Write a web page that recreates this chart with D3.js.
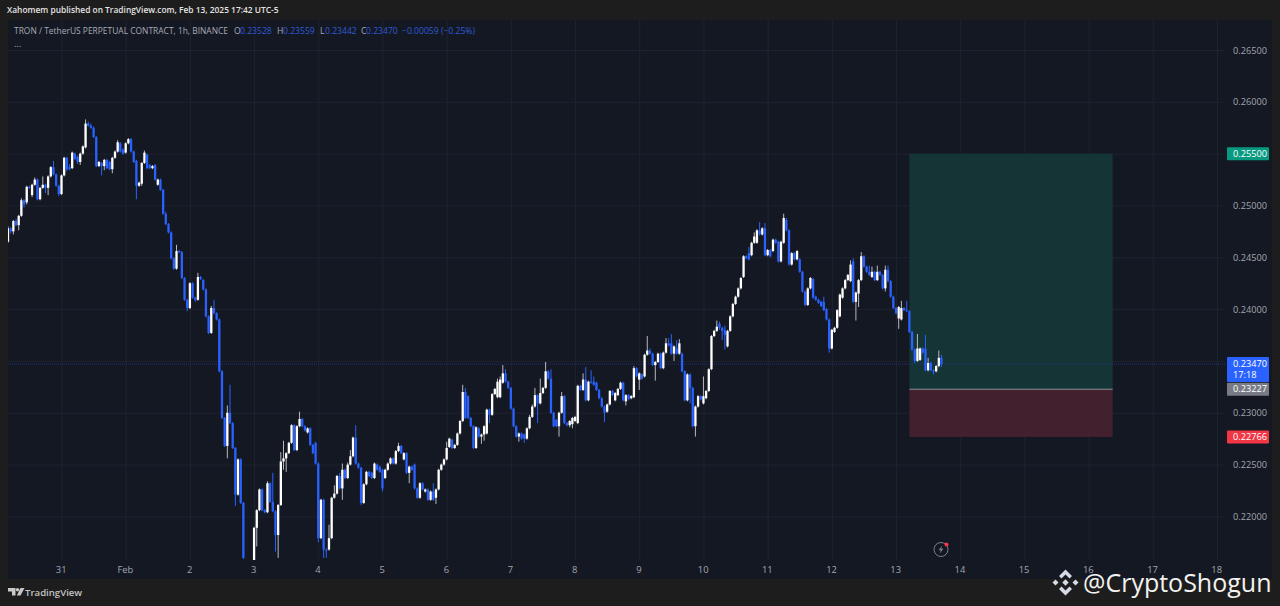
<!DOCTYPE html>
<html><head><meta charset="utf-8">
<script src="https://cdn.jsdelivr.net/npm/d3@7"></script>
<style>html,body{margin:0;padding:0;background:#1d1d1d;overflow:hidden}svg{display:block}text{font-family:"Open Sans",sans-serif}</style>
</head><body><svg id="c" width="1280" height="606"></svg>
<script>
// Values are prices x 10000, one per hourly candle.
const opens=[2465,2478,2475,2485,2481,2490,2505,2503,2518,2510,
2520,2525,2506,2517,2520,2517,2528,2537,2530,2519,
2511,2529,2546,2537,2536,2550,2547,2542,2550,2556,
2579,2577,2575,2566,2538,2541,2538,2544,2542,2535,
2546,2552,2560,2554,2551,2560,2564,2552,2543,2519,
2521,2541,2549,2539,2536,2539,2520,2525,2515,2492,
2482,2474,2449,2439,2456,2455,2430,2409,2401,2425,
2411,2409,2431,2428,2419,2393,2377,2401,2396,2390,
2340,2295,2268,2300,2290,2266,2221,2255,2213,2155,
2148,2140,2152,2189,2206,2226,2206,2204,2232,2214,
2205,2182,2211,2253,2256,2261,2271,2288,2264,2287,
2294,2287,2281,2285,2269,2271,2251,2179,2216,2168,
2168,2179,2218,2222,2239,2227,2245,2237,2250,2258,
2276,2251,2247,2213,2231,2243,2242,2237,2250,2248,
2245,2237,2245,2251,2256,2251,2263,2268,2255,2261,
2242,2248,2250,2227,2218,2232,2224,2226,2216,2224,
2218,2226,2245,2250,2255,2267,2274,2266,2269,2280,
2292,2320,2316,2295,2287,2266,2285,2277,2279,2280,
2303,2298,2318,2315,2315,2329,2338,2330,2324,2304,
2287,2277,2280,2279,2275,2285,2296,2306,2317,2309,
2319,2324,2340,2333,2300,2293,2287,2300,2316,2290,
2288,2289,2292,2290,2326,2322,2332,2312,2330,2330,
2329,2322,2314,2306,2301,2308,2321,2312,2317,2323,
2329,2311,2317,2314,2315,2343,2332,2337,2335,2356,
2360,2357,2346,2349,2357,2343,2358,2367,2367,2357,
2362,2357,2357,2340,2312,2337,2324,2287,2306,2316,
2309,2314,2321,2342,2374,2379,2386,2382,2380,2364,
2379,2393,2405,2412,2420,2431,2451,2454,2452,2464,
2464,2476,2472,2478,2452,2457,2456,2467,2465,2446,
2464,2486,2476,2443,2454,2448,2448,2436,2417,2404,
2420,2429,2412,2409,2407,2407,2400,2390,2362,2378,
2382,2393,2411,2420,2428,2427,2446,2407,2415,2428,
2451,2441,2436,2431,2436,2428,2436,2433,2420,2438,
2427,2412,2401,2391,2390,2401,2399,2398,2378,2361,
2350,2351,2362,2362,2341,2348,2341,2340,2345,2353];
const closes=[2478,2475,2485,2481,2490,2505,2501,2518,2517,2520,
2525,2506,2517,2520,2517,2528,2537,2530,2519,2511,
2529,2546,2535,2535,2551,2545,2542,2550,2557,2579,
2577,2575,2566,2538,2542,2538,2544,2536,2535,2546,
2552,2561,2552,2550,2560,2564,2552,2542,2519,2522,
2541,2551,2536,2536,2538,2525,2525,2515,2492,2482,
2474,2449,2439,2456,2455,2430,2409,2401,2425,2411,
2409,2431,2429,2419,2393,2377,2401,2396,2390,2340,
2295,2268,2300,2290,2266,2221,2255,2213,2160,2148,
2140,2150,2189,2206,2226,2206,2204,2232,2214,2205,
2182,2211,2253,2256,2261,2271,2288,2264,2287,2294,
2287,2283,2285,2269,2261,2251,2179,2216,2168,2167,
2179,2218,2222,2239,2227,2245,2237,2250,2258,2276,
2251,2247,2213,2231,2243,2239,2237,2251,2245,2243,
2227,2245,2251,2256,2251,2263,2268,2261,2261,2242,
2248,2245,2227,2218,2232,2226,2226,2216,2224,2216,
2226,2245,2250,2255,2266,2275,2266,2269,2280,2292,
2320,2295,2295,2287,2266,2286,2277,2279,2287,2303,
2298,2318,2323,2330,2332,2338,2330,2324,2304,2287,
2277,2280,2275,2275,2285,2296,2306,2317,2309,2319,
2324,2340,2333,2300,2287,2287,2300,2316,2290,2288,
2292,2295,2296,2326,2322,2332,2312,2330,2329,2327,
2322,2314,2306,2300,2308,2321,2317,2319,2323,2329,
2312,2317,2313,2316,2343,2335,2338,2333,2356,2360,
2357,2346,2349,2357,2343,2358,2367,2365,2357,2364,
2357,2367,2340,2312,2337,2324,2287,2306,2316,2313,
2316,2321,2342,2374,2379,2383,2382,2379,2375,2379,
2393,2405,2412,2420,2430,2451,2449,2448,2464,2470,
2476,2472,2478,2452,2457,2451,2467,2464,2446,2465,
2488,2476,2443,2454,2448,2456,2436,2417,2404,2420,
2430,2411,2409,2406,2403,2399,2390,2362,2380,2382,
2399,2414,2420,2428,2433,2443,2407,2416,2428,2451,
2441,2436,2433,2436,2428,2436,2433,2420,2438,2427,
2412,2401,2396,2402,2401,2399,2398,2378,2361,2350,
2362,2362,2358,2341,2348,2341,2340,2345,2353,2347];
const highs=[2480,2479,2486,2487,2491,2507,2506,2519,2519,2521,
2527,2526,2518,2528,2521,2529,2538,2543,2531,2520,
2530,2547,2547,2540,2552,2551,2548,2551,2558,2583,
2581,2579,2576,2567,2543,2542,2545,2545,2543,2547,
2553,2563,2561,2555,2561,2565,2565,2553,2544,2523,
2542,2553,2550,2540,2539,2540,2526,2526,2516,2494,
2483,2475,2450,2462,2457,2456,2431,2410,2426,2426,
2412,2435,2432,2429,2420,2394,2403,2409,2397,2391,
2341,2296,2307,2327,2291,2267,2256,2256,2214,2156,
2149,2151,2190,2207,2227,2227,2207,2234,2233,2242,
2206,2212,2262,2273,2262,2272,2289,2289,2288,2301,
2295,2288,2286,2286,2270,2272,2252,2217,2217,2169,
2192,2219,2230,2240,2242,2251,2246,2252,2264,2277,
2288,2252,2248,2232,2244,2244,2243,2252,2251,2249,
2246,2246,2252,2257,2257,2264,2271,2269,2262,2262,
2249,2249,2251,2228,2233,2233,2227,2227,2225,2232,
2227,2246,2251,2256,2272,2276,2275,2270,2281,2293,
2327,2324,2317,2296,2288,2287,2286,2280,2288,2304,
2304,2319,2324,2333,2335,2346,2342,2331,2325,2305,
2288,2281,2281,2280,2286,2298,2308,2324,2318,2333,
2325,2349,2341,2342,2301,2294,2301,2320,2317,2291,
2293,2296,2297,2327,2327,2338,2344,2331,2341,2335,
2330,2323,2315,2307,2309,2322,2322,2320,2324,2330,
2330,2318,2318,2317,2345,2344,2339,2338,2357,2374,
2362,2358,2350,2358,2358,2359,2372,2372,2376,2365,
2370,2371,2358,2341,2338,2338,2325,2307,2317,2317,
2335,2322,2343,2375,2380,2389,2388,2383,2384,2380,
2394,2406,2413,2421,2431,2452,2452,2460,2465,2474,
2477,2484,2479,2483,2458,2458,2468,2468,2466,2466,
2492,2488,2477,2455,2455,2457,2449,2437,2418,2421,
2431,2430,2413,2410,2408,2412,2401,2391,2381,2383,
2400,2415,2421,2429,2434,2447,2449,2417,2429,2455,
2452,2442,2442,2441,2437,2442,2437,2434,2442,2442,
2428,2413,2402,2403,2408,2402,2408,2399,2379,2362,
2376,2363,2363,2375,2353,2349,2342,2346,2360,2356];
const lows=[2464,2473,2472,2480,2476,2489,2498,2501,2516,2508,
2519,2505,2505,2516,2512,2510,2527,2529,2518,2509,
2510,2528,2533,2534,2535,2544,2540,2539,2549,2555,
2576,2574,2565,2537,2537,2529,2534,2535,2534,2531,
2545,2551,2551,2549,2550,2559,2551,2541,2506,2518,
2519,2540,2535,2535,2535,2524,2519,2514,2491,2481,
2473,2448,2438,2438,2454,2429,2408,2398,2400,2410,
2407,2408,2428,2418,2392,2376,2376,2395,2389,2339,
2294,2267,2256,2289,2265,2210,2220,2212,2159,2147,
2139,2139,2150,2171,2205,2205,2203,2203,2213,2204,
2166,2160,2210,2245,2243,2260,2270,2263,2263,2286,
2286,2282,2280,2268,2260,2250,2175,2178,2160,2160,
2167,2178,2217,2221,2226,2216,2236,2236,2249,2257,
2250,2246,2211,2212,2230,2238,2236,2236,2244,2242,
2224,2236,2244,2250,2250,2250,2262,2260,2254,2241,
2232,2244,2226,2217,2217,2225,2223,2215,2215,2215,
2212,2225,2244,2249,2254,2266,2265,2265,2268,2279,
2291,2294,2294,2286,2265,2265,2276,2270,2273,2279,
2290,2297,2317,2314,2314,2328,2329,2323,2303,2286,
2276,2272,2274,2271,2274,2284,2295,2305,2290,2308,
2318,2323,2332,2299,2286,2286,2277,2299,2289,2287,
2286,2285,2291,2289,2321,2321,2311,2311,2328,2326,
2321,2313,2305,2291,2300,2307,2316,2311,2316,2322,
2311,2307,2312,2313,2314,2334,2322,2332,2334,2355,
2356,2345,2331,2348,2342,2342,2357,2364,2356,2350,
2356,2356,2339,2311,2311,2309,2286,2277,2305,2312,
2308,2313,2320,2341,2373,2378,2380,2370,2361,2363,
2378,2392,2404,2411,2419,2430,2448,2447,2451,2463,
2463,2471,2471,2451,2451,2450,2455,2463,2445,2445,
2463,2475,2442,2442,2447,2447,2435,2416,2403,2403,
2419,2410,2408,2405,2402,2398,2389,2358,2361,2377,
2381,2392,2410,2419,2427,2426,2406,2389,2402,2427,
2440,2435,2432,2430,2427,2427,2432,2419,2417,2426,
2411,2400,2395,2381,2389,2398,2397,2377,2360,2348,
2349,2350,2357,2340,2340,2340,2337,2339,2344,2344];
const priceTicks=[0.265,0.26,0.255,0.25,0.245,0.24,0.235,0.23,0.225,0.22];
const firstCandle=new Date(Date.UTC(2025,0,30,4));
const lastTick=new Date(Date.UTC(2025,1,18));
const targetPrice=0.255, entryPrice=0.23227, stopPrice=0.22766, lastPrice=0.2347;
const toolStart=new Date(Date.UTC(2025,1,13,5)), toolEnd=new Date(Date.UTC(2025,1,16,9));
const headerText="Xahomem published on TradingView.com, Feb 13, 2025 17:42 UTC-5";
const titleText="TRON / TetherUS PERPETUAL CONTRACT, 1h, BINANCE";
const legendLetters=["O","H","L","C"];
const legendValues=["0.23528","0.23559","0.23442","0.23470"];
const legendChange="\u22120.00059 (\u22120.25%)";

const svg=d3.select("#c");
const W=1280,H=606,L=8,T=20,R=1272,B=579,PB=560,AX=1225;
const x=d3.scaleUtc().domain([firstCandle,lastTick]).range([8,1217]);
const y=d3.scaleLinear().domain([0.265,0.22]).range([50,516.4]);
const BLUE="#2962ff";

svg.append("rect").attr("width",W).attr("height",H).attr("fill","#1d1d1d");
svg.append("rect").attr("x",L).attr("y",T).attr("width",R-L).attr("height",B-T).attr("fill","#141823");
const defs=svg.append("defs");
defs.append("clipPath").attr("id","plot").append("rect").attr("x",L).attr("y",T).attr("width",AX-L).attr("height",PB-T);

// grid + axes
const days=d3.utcDay.range(d3.utcDay.ceil(firstCandle),d3.utcDay.offset(lastTick,1));
const xAxis=d3.axisBottom(x).tickValues(days).tickSize(0).tickPadding(0)
  .tickFormat(d=>d.getUTCDate()===1?"Feb":String(d.getUTCDate()));
const gx=svg.append("g").attr("transform",`translate(0,${PB})`).call(xAxis);
gx.select(".domain").remove();
gx.selectAll("text").attr("x",-0.8).attr("y",12.5).attr("dy",0).attr("fill","#a3a6af").attr("font-size",9.4);
gx.selectAll(".tick").append("line").attr("y1",T-PB).attr("y2",0).attr("stroke","#1e2330").attr("stroke-width",1);

const yAxis=d3.axisRight(y).tickValues(priceTicks).tickSize(0).tickPadding(0).tickFormat(d3.format(".5f"));
const gy=svg.append("g").attr("transform",`translate(${1233},0)`).call(yAxis);
gy.select(".domain").remove();
gy.selectAll("text").attr("fill","#a3a6af").attr("font-size",9.2).attr("dy","0.34em");
gy.selectAll(".tick").append("line").attr("x1",L-1233).attr("x2",AX-1233).attr("stroke","#1e2330").attr("stroke-width",1);

// position tool
const tool=svg.append("g");
tool.append("rect").attr("x",x(toolStart)).attr("width",x(toolEnd)-x(toolStart)).attr("y",y(targetPrice)).attr("height",y(entryPrice)-y(targetPrice)).attr("fill","#153436");
tool.append("rect").attr("x",x(toolStart)).attr("width",x(toolEnd)-x(toolStart)).attr("y",y(entryPrice)).attr("height",y(stopPrice)-y(entryPrice)).attr("fill","#42202d");
tool.append("line").attr("x1",x(toolStart)).attr("x2",x(toolEnd)).attr("y1",y(entryPrice)).attr("y2",y(entryPrice)).attr("stroke","#8d9098");

// last price line
svg.append("line").attr("x1",L).attr("x2",AX).attr("y1",y(lastPrice)).attr("y2",y(lastPrice)).attr("stroke","#23317a").attr("stroke-dasharray","1 1").attr("stroke-width",1);

// candles
const candles=opens.map((o,i)=>({t:d3.utcHour.offset(firstCandle,i),o:o/1e4,c:closes[i]/1e4,h:highs[i]/1e4,l:lows[i]/1e4}));
const g=svg.append("g").attr("clip-path","url(#plot)");
const sel=g.selectAll("g").data(candles).join("g");
sel.append("line").attr("x1",d=>x(d.t)).attr("x2",d=>x(d.t)).attr("y1",d=>y(d.h)).attr("y2",d=>y(d.l))
  .attr("stroke",d=>d.c>=d.o?"#b9b9bd":BLUE).attr("stroke-width",1);
sel.append("rect").attr("x",d=>x(d.t)-1.15).attr("width",2.3)
  .attr("y",d=>y(Math.max(d.o,d.c))).attr("height",d=>Math.max(1,Math.abs(y(d.o)-y(d.c))))
  .attr("fill",d=>d.c>=d.o?"#ffffff":BLUE);

// price labels
function tag(price,fill,txt,sub){
  const yy=y(price),h=sub?25:13,top=sub?yy-7:yy-6.5;
  const t=svg.append("g");
  t.append("rect").attr("x",1227).attr("y",top).attr("width",42).attr("height",h).attr("rx",1).attr("fill",fill);
  t.append("text").attr("x",1233).attr("y",top+6.5).attr("dy","0.34em").attr("fill","#fff").attr("font-size",9.2).text(txt);
  if(sub)t.append("text").attr("x",1233).attr("y",top+17.5).attr("dy","0.34em").attr("fill","#fff").attr("font-size",9.2).text(sub);
}
tag(targetPrice,"#089981","0.25500");
tag(lastPrice,BLUE,"0.23470","17:18");
tag(entryPrice,"#787b86","0.23227");
tag(stopPrice,"#f23645","0.22766");

// header + legend
svg.append("text").attr("x",7).attr("y",13).attr("fill","#e4e4e4").attr("font-size",8.38).attr("font-weight",600).text(headerText);
svg.append("text").attr("x",14).attr("y",34).attr("fill","#a8abb5").attr("font-size",8.43).text(titleText);
const lx=[234,277,320,361], vx=[240,283,325,366];
legendLetters.forEach((l,i)=>{
  svg.append("text").attr("x",lx[i]).attr("y",34).attr("fill","#a8abb5").attr("font-size",8.6).text(l);
  svg.append("text").attr("x",vx[i]).attr("y",34).attr("fill","#2f5bd8").attr("font-size",8.6).text(legendValues[i]);
});
svg.append("text").attr("x",402).attr("y",34).attr("fill","#2f5bd8").attr("font-size",8.6).text(legendChange);
svg.append("text").attr("x",14).attr("y",47).attr("fill","#a8abb5").attr("font-size",9).text("...");

// replay / alert icon
const ic=svg.append("g").attr("transform","translate(941,549.5)");
ic.append("circle").attr("r",7).attr("fill","none").attr("stroke","#7d8089").attr("stroke-width",1);
ic.append("path").attr("d","M1.2,-4 L-2.4,0.8 L-0.2,0.8 L-1.2,4 L2.4,-0.8 L0.2,-0.8 Z").attr("fill","#7d8089");
ic.append("circle").attr("cx",5.5).attr("cy",-5).attr("r",2).attr("fill","#f23645");

// TradingView footer
const tv=svg.append("g").attr("transform","translate(8,588)").attr("fill","#c9c9c9");
tv.append("path").attr("d","M0,0H7.5V7.5H4V3.5H0Z");
tv.append("circle").attr("cx",9.5).attr("cy",1.7).attr("r",1.7);
tv.append("path").attr("d","M12.5,0H16.5L12.5,7.5H8.8Z");
svg.append("text").attr("x",25).attr("y",596).attr("fill","#c4c4c4").attr("font-size",9.6).attr("font-weight",600).text("TradingView");

// watermark
const wm=svg.append("g").attr("transform","translate(1065.5,582.5)").attr("fill","#d3dbe6");
[[0,-9],[0,9]].forEach(([a,b])=>wm.append("path").attr("d",b<0?"M-6.5,-6.5 L0,-13 L6.5,-6.5 L4,-4 L0,-8 L-4,-4 Z":"M-6.5,6.5 L0,13 L6.5,6.5 L4,4 L0,8 L-4,4 Z"));
wm.append("path").attr("d","M0,-3.2 L3.2,0 L0,3.2 L-3.2,0 Z");
wm.append("path").attr("d","M-13,0 L-10,-3 L-7,0 L-10,3 Z");
wm.append("path").attr("d","M13,0 L10,-3 L7,0 L10,3 Z");
svg.append("text").attr("x",1083).attr("y",592).attr("fill","#f2f2f2").attr("font-family","'Noto Sans',sans-serif").attr("font-size",25).text("@CryptoShogun");
</script></body></html>
